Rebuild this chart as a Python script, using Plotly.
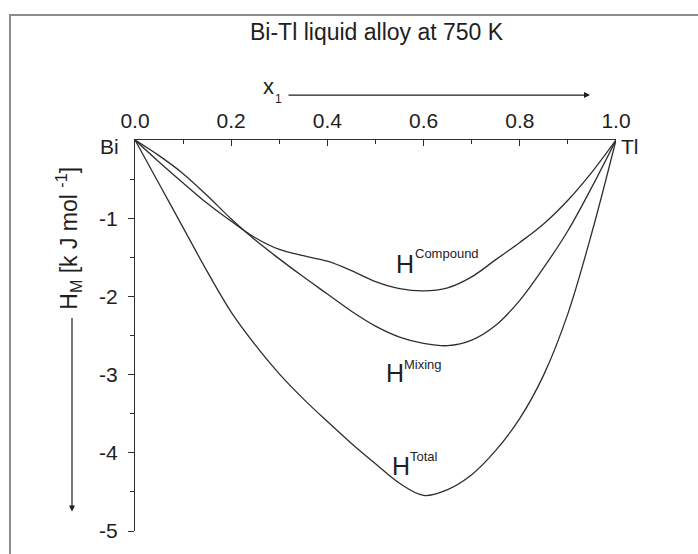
import plotly.graph_objects as go

# Composition of Tl (mole fraction x1)
x1 = [0.0, 0.05, 0.1, 0.15, 0.2, 0.25, 0.3, 0.35, 0.4, 0.45, 0.5,
      0.55, 0.6, 0.65, 0.7, 0.75, 0.8, 0.85, 0.9, 0.95, 1.0]

# Enthalpy contributions, kJ/mol
h_compound = [0.0, -0.28, -0.55, -0.81, -1.04, -1.25, -1.40, -1.48, -1.55, -1.67, -1.81,
              -1.90, -1.93, -1.89, -1.75, -1.53, -1.31, -1.07, -0.77, -0.41, 0.0]
h_mixing = [0.0, -0.20, -0.43, -0.71, -1.01, -1.28, -1.52, -1.75, -1.97, -2.19, -2.38,
            -2.52, -2.60, -2.63, -2.56, -2.37, -2.05, -1.63, -1.16, -0.60, 0.0]
h_total = [0.0, -0.56, -1.12, -1.68, -2.20, -2.62, -2.99, -3.31, -3.60, -3.88, -4.14,
           -4.39, -4.545, -4.47, -4.28, -3.97, -3.56, -3.00, -2.22, -1.18, 0.0]

x_ticks = [0.0, 0.2, 0.4, 0.6, 0.8, 1.0]
y_ticks = [-5, -4, -3, -2, -1]

FONT = "Liberation Sans, Arial, sans-serif"
INK = "#1e1e1e"
LINE = "#2e2e2e"

fig = go.Figure()
for ys in (h_compound, h_mixing, h_total):
    fig.add_trace(go.Scatter(
        x=x1, y=ys, mode="lines",
        line=dict(color=LINE, width=1.3, shape="spline", smoothing=1.0),
        showlegend=False, hoverinfo="skip", cliponaxis=False,
    ))

W, H = 698, 554
ML, MR, MT, MB = 135, 82, 140, 14
PW, PH = W - ML - MR, H - MT - MB


def px(xp):
    return (xp - ML) / PW


def py(yp):
    return (H - MB - yp) / PH


fig.update_layout(
    width=W, height=H,
    margin=dict(l=ML, r=MR, t=MT, b=MB),
    paper_bgcolor="white", plot_bgcolor="white",
    font=dict(family=FONT, size=21, color=INK),
    xaxis=dict(
        side="top", range=[0, 1], showgrid=False, zeroline=False,
        showline=True, linecolor=LINE, linewidth=1.3,
        tickmode="array", tickvals=x_ticks,
        ticktext=[f"{v:.1f}" for v in x_ticks],
        ticks="inside", ticklen=6, tickwidth=1.2, tickcolor=LINE,
        ticklabelstandoff=2,
        minor=dict(tickvals=[0.1, 0.3, 0.5, 0.7, 0.9], ticks="inside",
                   ticklen=4, tickwidth=1.2, tickcolor=LINE),
    ),
    yaxis=dict(
        range=[-5, 0], showgrid=False, zeroline=False,
        showline=True, linecolor=LINE, linewidth=1.3,
        tickmode="array", tickvals=y_ticks,
        ticktext=[str(v) for v in y_ticks],
        ticks="outside", ticklen=6, tickwidth=1.2, tickcolor=LINE,
        ticklabelstandoff=6,
        minor=dict(tickvals=[-4.5, -3.5, -2.5, -1.5, -0.5], ticks="outside",
                   ticklen=4, tickwidth=1.2, tickcolor=LINE),
    ),
)

# outer frame
fig.add_shape(type="rect", xref="paper", yref="paper",
              x0=px(10), x1=px(720), y0=py(580), y1=py(12),
              line=dict(color="#8c8c8c", width=2), layer="below")

ann = [
    dict(text="Bi-Tl liquid alloy at 750 K", x=px(377), y=py(30), size=23),
    dict(text="x", x=px(268), y=py(85), size=22),
    dict(text="1", x=px(278), y=py(98), size=12),
    dict(text="Bi", x=px(109), y=py(147), size=21),
    dict(text="Tl", x=px(630), y=py(147), size=21),
    dict(text="H<sub>M</sub> [k J mol <sup>-1</sup>]", x=px(68), y=py(241),
         size=23, textangle=-90),
    # curve labels: main symbol and raised tag
    dict(text="H", x=px(405), y=py(267), size=25),
    dict(text="Compound", x=px(447), y=py(256), size=13),
    dict(text="H", x=px(395), y=py(378), size=25),
    dict(text="Mixing", x=px(423), y=py(370), size=13),
    dict(text="H", x=px(401), y=py(473), size=25),
    dict(text="Total", x=px(424), y=py(464), size=13),
]
for a in ann:
    size = a.pop("size")
    fig.add_annotation(xref="paper", yref="paper", showarrow=False,
                       xanchor="center", yanchor="middle",
                       font=dict(size=size), **a)

# direction arrows for x1 and H_M (tail offsets in pixels)
fig.add_annotation(xref="paper", yref="paper", x=px(590), y=py(94),
                   ax=287 - 590, ay=0, axref="pixel", ayref="pixel",
                   showarrow=True, arrowhead=2, arrowsize=1, arrowwidth=1.2,
                   arrowcolor=INK, text="")
fig.add_annotation(xref="paper", yref="paper", x=px(72), y=py(520),
                   ax=0, ay=325 - 520, axref="pixel", ayref="pixel",
                   showarrow=True, arrowhead=2, arrowsize=1, arrowwidth=1.2,
                   arrowcolor=INK, text="")

fig.write_html("out.html")
